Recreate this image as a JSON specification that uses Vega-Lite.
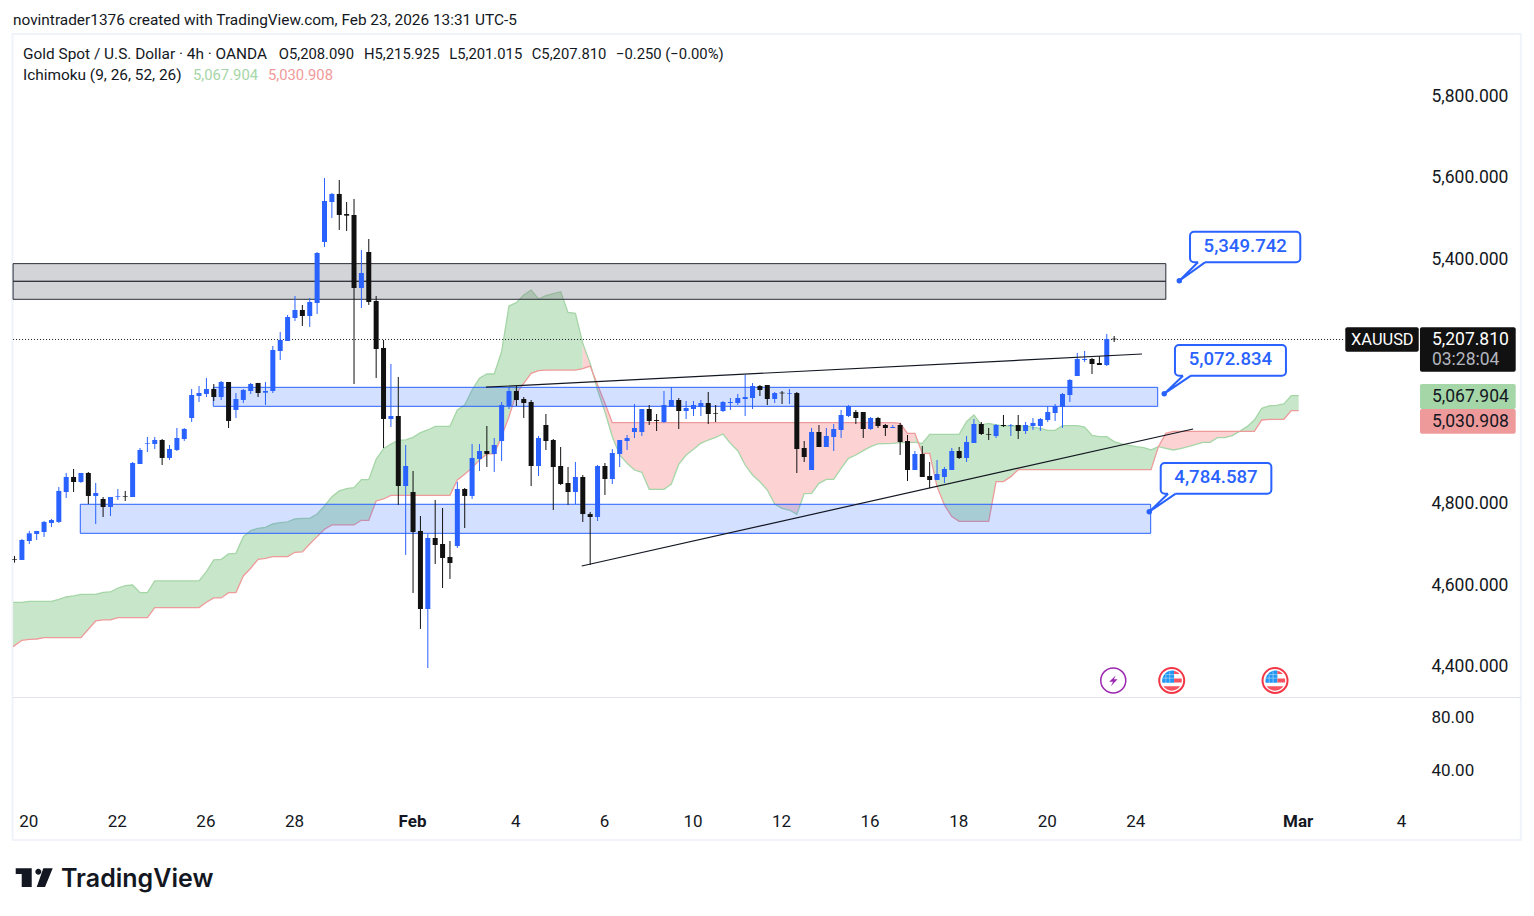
{
"$schema":"https://vega.github.io/schema/vega-lite/v6.json",
"width":1534,"height":916,"padding":0,"autosize":{"type":"none"},"background":"#ffffff",
"config":{"view":{"stroke":null},"text":{"font":"Roboto"}},
"datasets":{
"candles":[
{"i":-2,"o":4664.8,"h":4672.2,"l":4655.8,"c":4663.2},{"i":-1,"o":4662.4,"h":4713.9,"l":4662.4,"c":4711.4},{"i":0,"o":4708.9,"h":4733.5,"l":4701.6,"c":4727.7},{"i":1,"o":4726.1,"h":4733.5,"l":4711.4,"c":4733.5},{"i":2,"o":4731,"h":4758,"l":4718.8,"c":4755.6},{"i":3,"o":4753.1,"h":4762.9,"l":4743.3,"c":4760.4},{"i":4,"o":4755.6,"h":4841.3,"l":4753.1,"c":4831.6},{"i":5,"o":4829.1,"h":4875.7,"l":4814.4,"c":4865.9},{"i":6,"o":4865.9,"h":4885.5,"l":4829.1,"c":4853.6},{"i":7,"o":4853.6,"h":4875.7,"l":4851.2,"c":4875.7},
{"i":8,"o":4875.7,"h":4878.1,"l":4799.7,"c":4819.3},{"i":9,"o":4819.3,"h":4851.2,"l":4750.6,"c":4826.6},{"i":10,"o":4811.9,"h":4816.8,"l":4767.8,"c":4792.3},{"i":11,"o":4792.3,"h":4816.8,"l":4770.2,"c":4816.8},{"i":12,"o":4816.8,"h":4836.4,"l":4809.5,"c":4818.5},{"i":13,"o":4819.3,"h":4831.6,"l":4807,"c":4817.7},{"i":14,"o":4816.8,"h":4902.6,"l":4816.8,"c":4900.2},{"i":15,"o":4897.7,"h":4937,"l":4897.7,"c":4932.1},{"i":16,"o":4947.6,"h":4963.9,"l":4927.2,"c":4949.2},{"i":17,"o":4946.8,"h":4963.9,"l":4934.5,"c":4956.6},
{"i":18,"o":4956.6,"h":4959,"l":4895.3,"c":4912.5},{"i":19,"o":4912.5,"h":4944.3,"l":4907.6,"c":4934.5},{"i":20,"o":4932.1,"h":4986,"l":4929.6,"c":4961.5},{"i":21,"o":4959,"h":4986,"l":4954.2,"c":4983.6},{"i":22,"o":5010.5,"h":5081.6,"l":5000.7,"c":5066.9},{"i":23,"o":5064.5,"h":5089,"l":5049.8,"c":5071.8},{"i":24,"o":5069.4,"h":5108.6,"l":5062,"c":5081.6},{"i":25,"o":5081.6,"h":5093.9,"l":5052.2,"c":5062},{"i":26,"o":5062,"h":5101.3,"l":5054.7,"c":5098.8},{"i":27,"o":5098.8,"h":5098.8,"l":4986,"c":5003.2},
{"i":28,"o":5030.2,"h":5071.8,"l":5010.5,"c":5057.1},{"i":29,"o":5054.7,"h":5081.6,"l":5047.3,"c":5079.2},{"i":30,"o":5076.7,"h":5096.4,"l":5069.4,"c":5093.9},{"i":31,"o":5096.4,"h":5096.4,"l":5062,"c":5071.8},{"i":32,"o":5072.6,"h":5098.8,"l":5042.4,"c":5076.7},{"i":33,"o":5076.7,"h":5187.1,"l":5071.8,"c":5177.3},{"i":34,"o":5174.8,"h":5221.4,"l":5152.8,"c":5201.8},{"i":35,"o":5199.3,"h":5263.1,"l":5199.3,"c":5258.2},{"i":36,"o":5255.7,"h":5309.7,"l":5248.4,"c":5275.3},{"i":37,"o":5275.3,"h":5287.6,"l":5236.1,"c":5260.6},
{"i":38,"o":5260.6,"h":5304.8,"l":5233.7,"c":5295},{"i":39,"o":5292.5,"h":5417.5,"l":5265.5,"c":5415.1},{"i":40,"o":5442.1,"h":5599,"l":5429.8,"c":5542.6},{"i":41,"o":5540.1,"h":5562.2,"l":5500.9,"c":5559.8},{"i":42,"o":5559.8,"h":5594.1,"l":5471.5,"c":5508.3},{"i":43,"o":5510.7,"h":5540.1,"l":5469,"c":5506.6},{"i":44,"o":5508.3,"h":5547.5,"l":5093.9,"c":5329.3},{"i":45,"o":5329.3,"h":5422.4,"l":5280.2,"c":5366},{"i":46,"o":5417.5,"h":5449.4,"l":5287.6,"c":5295},{"i":47,"o":5297.4,"h":5309.7,"l":5108.6,"c":5179.7},
{"i":48,"o":5182.2,"h":5201.8,"l":4937,"c":5008.1},{"i":49,"o":5008.1,"h":5143,"l":4988.5,"c":5015.4},{"i":50,"o":5015.4,"h":5111.1,"l":4797.2,"c":4843.8},{"i":51,"o":4843.8,"h":4944.3,"l":4674.6,"c":4892.8},{"i":52,"o":4829.1,"h":4880.6,"l":4581.4,"c":4731},{"i":53,"o":4733.5,"h":4770.2,"l":4493.2,"c":4542.2},{"i":54,"o":4542.2,"h":4726.1,"l":4397.6,"c":4716.3},{"i":55,"o":4716.3,"h":4809.5,"l":4652.5,"c":4699.1},{"i":56,"o":4701.6,"h":4789.8,"l":4593.7,"c":4667.3},{"i":57,"o":4669.7,"h":4708.9,"l":4615.8,"c":4655},
{"i":58,"o":4696.7,"h":4853.6,"l":4691.8,"c":4836.4},{"i":59,"o":4836.4,"h":4838.9,"l":4740.8,"c":4819.3},{"i":60,"o":4819.3,"h":4946.8,"l":4811.9,"c":4912.5},{"i":61,"o":4910,"h":4946.8,"l":4880.6,"c":4929.6},{"i":62,"o":4929.6,"h":4990.9,"l":4890.4,"c":4922.3},{"i":63,"o":4922.3,"h":4961.5,"l":4878.1,"c":4944.3},{"i":64,"o":4954.1,"h":5049.7,"l":4905,"c":5042.3},{"i":65,"o":5039.9,"h":5086.4,"l":5032.5,"c":5076.6},{"i":66,"o":5076.6,"h":5088.9,"l":5039.9,"c":5054.6},{"i":67,"o":5057,"h":5061.9,"l":5010.4,"c":5047.2},
{"i":68,"o":5049.7,"h":5054.6,"l":4843.7,"c":4892.8},{"i":69,"o":4892.8,"h":4966.3,"l":4868.2,"c":4961.4},{"i":70,"o":4993.3,"h":5020.3,"l":4932,"c":4954.1},{"i":71,"o":4956.5,"h":4959,"l":4784.9,"c":4890.3},{"i":72,"o":4892.8,"h":4939.3,"l":4846.2,"c":4848.6},{"i":73,"o":4851.1,"h":4890.3,"l":4797.1,"c":4829},{"i":74,"o":4829,"h":4902.6,"l":4799.6,"c":4865.8},{"i":75,"o":4865.8,"h":4870.7,"l":4755.5,"c":4775},{"i":76,"o":4775,"h":4780,"l":4650,"c":4767.7},{"i":77,"o":4767.7,"h":4895.2,"l":4757.9,"c":4892.8},
{"i":78,"o":4892.8,"h":4900.1,"l":4821.7,"c":4860.9},{"i":79,"o":4860.9,"h":4934.4,"l":4848.6,"c":4924.6},{"i":80,"o":4922.2,"h":4956.5,"l":4890.3,"c":4956.5},{"i":81,"o":4954.1,"h":4968.8,"l":4932,"c":4961.4},{"i":82,"o":4976.1,"h":5044.8,"l":4961.4,"c":4985.9},{"i":83,"o":4976.1,"h":5032.5,"l":4966.3,"c":5032.5},{"i":84,"o":5032.5,"h":5042.3,"l":4993.3,"c":5003.1},{"i":85,"o":5005.5,"h":5020.3,"l":4978.6,"c":5003.1},{"i":86,"o":5000.6,"h":5076.6,"l":4998.2,"c":5042.3},{"i":87,"o":5037.4,"h":5086.4,"l":5037.4,"c":5054.6},
{"i":88,"o":5054.6,"h":5059.5,"l":4983.5,"c":5027.6},{"i":89,"o":5027.6,"h":5052.1,"l":5008,"c":5035},{"i":90,"o":5032.5,"h":5052.1,"l":5015.3,"c":5042.3},{"i":91,"o":5037.4,"h":5054.6,"l":5015.3,"c":5047.2},{"i":92,"o":5047.2,"h":5074.2,"l":4995.7,"c":5020.3},{"i":93,"o":5022.7,"h":5042.3,"l":5000.6,"c":5021.1},{"i":94,"o":5027.6,"h":5052.1,"l":5025.1,"c":5049.7},{"i":95,"o":5047.2,"h":5059.5,"l":5030.1,"c":5049.7},{"i":96,"o":5047.2,"h":5069.3,"l":5042.3,"c":5059.5},{"i":97,"o":5057,"h":5115.9,"l":5015.3,"c":5061.9},
{"i":98,"o":5059.5,"h":5096.2,"l":5032.5,"c":5088.9},{"i":99,"o":5088.9,"h":5091.4,"l":5064.4,"c":5079.1},{"i":100,"o":5091.4,"h":5091.4,"l":5042.3,"c":5057},{"i":101,"o":5057,"h":5074.2,"l":5047.2,"c":5071.7},{"i":102,"o":5072.6,"h":5076.6,"l":5044.8,"c":5070.9},{"i":103,"o":5070.1,"h":5081.5,"l":5044.8,"c":5071.7},{"i":104,"o":5071.7,"h":5074.2,"l":4875.6,"c":4934.4},{"i":105,"o":4936.9,"h":4954.1,"l":4902.6,"c":4914.8},{"i":106,"o":4883,"h":4986,"l":4883,"c":4976.2},{"i":107,"o":4976.2,"h":4993.3,"l":4939.4,"c":4939.4},
{"i":108,"o":4939.4,"h":4986,"l":4939.4,"c":4966.4},{"i":109,"o":4963.9,"h":4995.8,"l":4929.6,"c":4983.5},{"i":110,"o":4981.1,"h":5030.1,"l":4961.5,"c":5017.9},{"i":111,"o":5015.4,"h":5042.4,"l":5013,"c":5039.9},{"i":112,"o":5025.2,"h":5030.1,"l":4995.8,"c":5010.5},{"i":113,"o":5025.2,"h":5025.2,"l":4961.5,"c":4983.5},{"i":114,"o":4983.5,"h":5013,"l":4981.1,"c":5010.5},{"i":115,"o":5010.5,"h":5013,"l":4986,"c":4990.9},{"i":116,"o":4993.3,"h":4995.8,"l":4966.4,"c":4986},{"i":117,"o":4986,"h":4993.3,"l":4986,"c":4988.4},
{"i":118,"o":4993.3,"h":4998.3,"l":4919.8,"c":4951.7},{"i":119,"o":4954.1,"h":4968.8,"l":4856,"c":4883},{"i":120,"o":4883,"h":4929.6,"l":4883,"c":4922.2},{"i":121,"o":4922.2,"h":4941.9,"l":4865.8,"c":4865.8},{"i":122,"o":4868.3,"h":4902.6,"l":4838.9,"c":4858.5},{"i":123,"o":4858.5,"h":4907.5,"l":4858.5,"c":4873.2},{"i":124,"o":4865.8,"h":4890.4,"l":4851.1,"c":4885.5},{"i":125,"o":4883,"h":4936.9,"l":4883,"c":4929.6},{"i":126,"o":4929.6,"h":4939.4,"l":4910,"c":4912.4},{"i":127,"o":4912.4,"h":4966.4,"l":4902.6,"c":4951.7},
{"i":128,"o":4949.2,"h":5008,"l":4949.2,"c":4995.8},{"i":129,"o":4995.8,"h":5000.7,"l":4968.8,"c":4971.3},{"i":130,"o":4971.3,"h":4986,"l":4956.6,"c":4969.6},{"i":131,"o":4966.4,"h":4995.8,"l":4961.5,"c":4993.3},{"i":132,"o":4993.3,"h":5017.9,"l":4988.4,"c":4990.9},{"i":133,"o":4991.7,"h":4995.8,"l":4966.4,"c":4993.3},{"i":134,"o":4993.3,"h":5017.9,"l":4959,"c":4978.6},{"i":135,"o":4978.6,"h":5000.7,"l":4971.3,"c":4993.3},{"i":136,"o":4990.9,"h":5010.5,"l":4981.1,"c":4998.3},{"i":137,"o":4990.9,"h":5010.5,"l":4978.6,"c":5008},
{"i":138,"o":5005.6,"h":5039.9,"l":5000.7,"c":5025.2},{"i":139,"o":5022.8,"h":5044.8,"l":5003.2,"c":5039.9},{"i":140,"o":5037.5,"h":5071.8,"l":4986,"c":5069.4},{"i":141,"o":5066.9,"h":5106.1,"l":5049.7,"c":5103.7},{"i":142,"o":5113.5,"h":5169.9,"l":5113.5,"c":5155.2},{"i":143,"o":5152.7,"h":5174.8,"l":5147.8,"c":5155.2},{"i":144,"o":5155.2,"h":5157.6,"l":5118.4,"c":5142.9},{"i":145,"o":5145.4,"h":5162.5,"l":5140.5,"c":5140.5},{"i":146,"o":5140.5,"h":5216.5,"l":5138,"c":5204.2},{"i":147,"o":5205,"h":5211.6,"l":5196.9,"c":5203.4}
],
"cloud":[
{"i":-2.2,"a":4558.6,"b":4449.9,"s":"G1"},{"i":-1,"a":4558.6,"b":4465.4,"s":"G1"},{"i":0,"a":4561,"b":4467.8,"s":"G1"},{"i":1,"a":4561,"b":4468.6,"s":"G1"},{"i":2,"a":4561,"b":4472,"s":"G1"},{"i":3,"a":4561,"b":4472,"s":"G1"},{"i":4,"a":4565.9,"b":4472,"s":"G1"},{"i":5,"a":4571.6,"b":4472,"s":"G1"},{"i":6,"a":4574.1,"b":4472,"s":"G1"},{"i":7,"a":4578.2,"b":4472,"s":"G1"},{"i":8,"a":4578.2,"b":4492.4,"s":"G1"},{"i":9,"a":4578.2,"b":4512.8,"s":"G1"},{"i":10,"a":4583.1,"b":4515.3,"s":"G1"},{"i":11,"a":4583.9,"b":4515.3,"s":"G1"},{"i":12,"a":4593.7,"b":4521,"s":"G1"},{"i":13,"a":4599.4,"b":4521,"s":"G1"},{"i":14,"a":4601,"b":4521,"s":"G1"},{"i":15,"a":4582.3,"b":4521,"s":"G1"},{"i":16,"a":4582.3,"b":4521,"s":"G1"},{"i":17,"a":4610.9,"b":4545.5,"s":"G1"},{"i":23,"a":4610.9,"b":4545.5,"s":"G1"},
{"i":24,"a":4633.8,"b":4558.6,"s":"G1"},{"i":25,"a":4662.4,"b":4569.2,"s":"G1"},{"i":26,"a":4664,"b":4569.2,"s":"G1"},{"i":27,"a":4677.1,"b":4582.3,"s":"G1"},{"i":28,"a":4678.7,"b":4582.3,"s":"G1"},{"i":29,"a":4719.6,"b":4623.1,"s":"G1"},{"i":30,"a":4734.3,"b":4642,"s":"G1"},{"i":31,"a":4740,"b":4664,"s":"G1"},{"i":32,"a":4742.5,"b":4666.4,"s":"G1"},{"i":33,"a":4750.6,"b":4670.5,"s":"G1"},{"i":34,"a":4753.9,"b":4670.5,"s":"G1"},{"i":35,"a":4755.6,"b":4670.5,"s":"G1"},{"i":36,"a":4762.9,"b":4681.2,"s":"G1"},{"i":37,"a":4764.5,"b":4682,"s":"G1"},{"i":38,"a":4764.5,"b":4701.6,"s":"G1"},{"i":39,"a":4775.2,"b":4719.6,"s":"G1"},{"i":40,"a":4794.8,"b":4737.6,"s":"G1"},{"i":41,"a":4817.6,"b":4748.2,"s":"G1"},{"i":42,"a":4831.6,"b":4748.2,"s":"G1"},{"i":43,"a":4837.3,"b":4748.2,"s":"G1"},{"i":44,"a":4839.7,"b":4748.2,"s":"G1"},{"i":45,"a":4859.3,"b":4759.6,"s":"G1"},{"i":46,"a":4859.3,"b":4759.6,"s":"G1"},{"i":47,"a":4909.2,"b":4807,"s":"G1"},{"i":48,"a":4935.3,"b":4811.9,"s":"G1"},{"i":49,"a":4946.8,"b":4820.9,"s":"G1"},{"i":50,"a":4955.8,"b":4820.9,"s":"G1"},{"i":51,"a":4956.6,"b":4820.9,"s":"G1"},{"i":52,"a":4963.1,"b":4820.9,"s":"G1"},{"i":53,"a":4974.6,"b":4820.9,"s":"G1"},{"i":54,"a":4981.1,"b":4820.9,"s":"G1"},{"i":55,"a":4990.1,"b":4820.9,"s":"G1"},{"i":57,"a":4990.1,"b":4820.9,"s":"G1"},{"i":58,"a":5030.2,"b":4858.5,"s":"G1"},{"i":59,"a":5042.4,"b":4872.4,"s":"G1"},{"i":60,"a":5079.2,"b":4888.8,"s":"G1"},{"i":61,"a":5107.8,"b":4907.6,"s":"G1"},{"i":62,"a":5118.4,"b":4922.3,"s":"G1"},{"i":63,"a":5118.4,"b":4922.3,"s":"G1"},{"i":64,"a":5173.1,"b":4965.5,"s":"G1"},{"i":65,"a":5285,"b":5013.7,"s":"G1"},{"i":66,"a":5293.2,"b":5070.9,"s":"G1"},{"i":67,"a":5312,"b":5095.4,"s":"G1"},{"i":68,"a":5324.3,"b":5120,"s":"G1"},{"i":69,"a":5302.2,"b":5126.5,"s":"G1"},{"i":70,"a":5310.4,"b":5128.1,"s":"G1"},{"i":71,"a":5315.3,"b":5128.1,"s":"G1"},{"i":72,"a":5320.2,"b":5128.1,"s":"G1"},{"i":73,"a":5269.5,"b":5128.1,"s":"G1"},{"i":74,"a":5267,"b":5128.1,"s":"G1"},{"i":75,"a":5193.5,"b":5131.4,"s":"G1"},
{"i":75,"a":5193.5,"b":5131.4,"s":"R1"},{"i":76,"a":5144.5,"b":5137.9,"s":"R1"},{"i":77,"a":5079.1,"b":5091.4,"s":"R1"},{"i":78,"a":5025.9,"b":5046.4,"s":"R1"},{"i":79,"a":4964.7,"b":4999,"s":"R1"},{"i":80,"a":4919.7,"b":4999,"s":"R1"},{"i":81,"a":4899.3,"b":4999,"s":"R1"},{"i":82,"a":4882.9,"b":4999,"s":"R1"},{"i":83,"a":4877.2,"b":4999,"s":"R1"},{"i":84,"a":4835.5,"b":4999,"s":"R1"},{"i":86,"a":4835.5,"b":4999,"s":"R1"},{"i":87,"a":4848.6,"b":4999,"s":"R1"},{"i":88,"a":4896.8,"b":4999,"s":"R1"},{"i":89,"a":4919.7,"b":4999,"s":"R1"},{"i":90,"a":4933.6,"b":4999,"s":"R1"},{"i":91,"a":4948.3,"b":4999,"s":"R1"},{"i":92,"a":4956.5,"b":4999,"s":"R1"},{"i":93,"a":4963,"b":4999,"s":"R1"},{"i":94,"a":4971.2,"b":4999,"s":"R1"},{"i":95,"a":4948.3,"b":4999,"s":"R1"},{"i":96,"a":4930.3,"b":4999,"s":"R1"},{"i":97,"a":4895.2,"b":4999,"s":"R1"},{"i":98,"a":4870.7,"b":4999,"s":"R1"},{"i":99,"a":4854.3,"b":4999,"s":"R1"},{"i":100,"a":4833.9,"b":4999,"s":"R1"},{"i":101,"a":4799.6,"b":4999,"s":"R1"},{"i":102,"a":4789,"b":4999,"s":"R1"},{"i":103,"a":4784.9,"b":4999,"s":"R1"},{"i":104,"a":4774.2,"b":4999,"s":"R1"},{"i":105,"a":4825,"b":4999,"s":"R1"},{"i":106,"a":4825.8,"b":4999,"s":"R1"},{"i":107,"a":4850.3,"b":4999,"s":"R1"},{"i":108,"a":4860.1,"b":4999,"s":"R1"},{"i":109,"a":4860.1,"b":4999,"s":"R1"},{"i":110,"a":4887.1,"b":4999,"s":"R1"},{"i":111,"a":4911.6,"b":4999,"s":"R1"},{"i":112,"a":4919.8,"b":4999,"s":"R1"},{"i":113,"a":4930.4,"b":4999,"s":"R1"},{"i":114,"a":4940.2,"b":4999,"s":"R1"},{"i":115,"a":4946.8,"b":4999,"s":"R1"},{"i":116,"a":4947.6,"b":4999,"s":"R1"},{"i":117,"a":4948.4,"b":4999,"s":"R1"},{"i":118,"a":4950,"b":4997.4,"s":"R1"},{"i":119,"a":4950.9,"b":4972.9,"s":"R1"},{"i":120,"a":4950.9,"b":4972.9,"s":"R1"},
{"i":120,"a":4950.9,"b":4972.9,"s":"G2"},{"i":121,"a":4948.4,"b":4923.9,"s":"G2"},{"i":122,"a":4970.5,"b":4923.9,"s":"G2"},{"i":123,"a":4970.5,"b":4842.1,"s":"G2"},{"i":124,"a":4970.5,"b":4797.2,"s":"G2"},{"i":125,"a":4970.5,"b":4768.6,"s":"G2"},{"i":126,"a":4970.5,"b":4757.1,"s":"G2"},{"i":127,"a":5001.5,"b":4757.1,"s":"G2"},{"i":128,"a":5017.9,"b":4757.1,"s":"G2"},{"i":129,"a":4993.3,"b":4757.1,"s":"G2"},{"i":130,"a":4997.4,"b":4757.1,"s":"G2"},{"i":131,"a":4993.3,"b":4854.4,"s":"G2"},{"i":132,"a":4990.9,"b":4854.4,"s":"G2"},{"i":133,"a":4990.9,"b":4866.7,"s":"G2"},{"i":134,"a":4990.9,"b":4883.8,"s":"G2"},{"i":135,"a":4990.9,"b":4883.8,"s":"G2"},{"i":136,"a":4987.6,"b":4883.8,"s":"G2"},{"i":137,"a":4985.2,"b":4883.8,"s":"G2"},{"i":138,"a":4980.3,"b":4883.8,"s":"G2"},{"i":139,"a":4980.3,"b":4883.8,"s":"G2"},{"i":140,"a":4991.7,"b":4883.8,"s":"G2"},{"i":142,"a":4991.7,"b":4883.8,"s":"G2"},{"i":143,"a":4988.4,"b":4883.8,"s":"G2"},{"i":144,"a":4968,"b":4883.8,"s":"G2"},{"i":145,"a":4964.7,"b":4883.8,"s":"G2"},{"i":146,"a":4964.7,"b":4883.8,"s":"G2"},{"i":147,"a":4952.5,"b":4883.8,"s":"G2"},{"i":148,"a":4946.8,"b":4883.8,"s":"G2"},{"i":149,"a":4943.5,"b":4883.8,"s":"G2"},{"i":150,"a":4940.2,"b":4883.8,"s":"G2"},{"i":151,"a":4937.8,"b":4883.8,"s":"G2"},{"i":152,"a":4932.1,"b":4883.8,"s":"G2"},{"i":153,"a":4940.2,"b":4940.2,"s":"G2"},
{"i":153,"a":4940.2,"b":4940.2,"s":"R2"},{"i":154,"a":4936.2,"b":4972.9,"s":"R2"},{"i":155,"a":4932.1,"b":4977.8,"s":"R2"},{"i":156,"a":4935.3,"b":4977.8,"s":"R2"},{"i":157,"a":4940.2,"b":4977.8,"s":"R2"},{"i":158,"a":4945.1,"b":4977.8,"s":"R2"},{"i":159,"a":4950.9,"b":4977.8,"s":"R2"},{"i":160,"a":4950.9,"b":4977.8,"s":"R2"},{"i":161,"a":4962.3,"b":4977.8,"s":"R2"},{"i":162,"a":4962.3,"b":4977.8,"s":"R2"},{"i":163,"a":4967.2,"b":4977.8,"s":"R2"},{"i":164,"a":4977.8,"b":4977.8,"s":"R2"},
{"i":164,"a":4977.8,"b":4977.8,"s":"G3"},{"i":165,"a":4989.3,"b":4977.8,"s":"G3"},{"i":166,"a":5005.6,"b":4977.8,"s":"G3"},{"i":167,"a":5034.2,"b":5005.6,"s":"G3"},{"i":168,"a":5039.9,"b":5007.3,"s":"G3"},{"i":169,"a":5041.6,"b":5007.3,"s":"G3"},{"i":170,"a":5044.9,"b":5007.3,"s":"G3"},{"i":171,"a":5065.3,"b":5028.5,"s":"G3"},{"i":172,"a":5065.3,"b":5028.5,"s":"G3"}
],
"greyZone":[{"i":-2.2,"i2":154,"p":5389,"p2":5345.6},{"i":-2.2,"i2":154,"p":5345.6,"p2":5301.5}],
"blueZone":[{"i":24.93,"i2":152.9,"p":5085.7,"p2":5039.1},{"i":6.91,"i2":151.95,"p":4798.9,"p2":4727.7}],
"trend":[{"id":"upper","i":61.88,"p":5086},{"id":"upper","i":150.77,"p":5167.4},{"id":"lower","i":74.85,"p":4647.6},{"id":"lower","i":157.7,"p":4983.5}],
"lastPrice":[{"i":-2.2,"i2":178.3,"p":5203}],
"frame":[{"i":-2.28,"i2":202.1,"p":5952,"p2":3975.8}],
"paneLine":[{"i":-2.2,"i2":202.1,"v":94.7}],
"boxes":[{"i":157.28,"i2":172.22,"p":5467.3,"p2":5392.2},{"i":155.24,"i2":170.28,"p":5189.5,"p2":5114.2},{"i":153.31,"i2":168.3,"p":4900.2,"p2":4824.9}],
"gaps":[{"id":1,"i":158.36,"p":5392.2},{"id":1,"i":159.31,"p":5392.2},{"id":2,"i":156.33,"p":5114.2},{"id":2,"i":157.41,"p":5114.2},{"id":3,"i":154.3,"p":4824.9},{"id":3,"i":155.34,"p":4824.9}],
"tails":[{"id":1,"n":1,"i":158.36,"p":5392.2},{"id":1,"n":2,"i":155.83,"p":5347.1},{"id":1,"n":3,"i":159.31,"p":5392.2},{"id":2,"n":1,"i":156.33,"p":5114.2},{"id":2,"n":2,"i":153.79,"p":5070.1},{"id":2,"n":3,"i":157.41,"p":5114.2},{"id":3,"n":1,"i":154.3,"p":4824.9},{"id":3,"n":2,"i":151.76,"p":4780.7},{"id":3,"n":3,"i":155.34,"p":4824.9}],
"dots":[{"i":155.83,"p":5347.1},{"i":153.79,"p":5070.1},{"i":151.76,"p":4780.7}],
"callouts":[{"i":164.76,"p":5432.2,"t":"5,349.742"},{"i":162.76,"p":5154.5,"t":"5,072.834"},{"i":160.8,"p":4865.2,"t":"4,784.587"}],
"tags":[{"i":178.32,"i2":188.27,"p":5232.9,"p2":5173,"k":"dark"},{"i":188.44,"i2":201.41,"p":5232.9,"p2":5124,"k":"dark"},{"i":188.44,"i2":201.41,"p":5093.9,"p2":5032.6,"k":"spanA"},{"i":188.44,"i2":201.41,"p":5032.6,"p2":4972,"k":"spanB"}],
"symbolTag":[{"i":179.1,"p":5201.8,"t":"XAUUSD","k":"white"}],
"tagText":[{"i":190.06,"p":5201.8,"t":"5,207.810","k":"white"},{"i":190.06,"p":5152.7,"t":"03:28:04","k":"muted"},{"i":190.06,"p":5062,"t":"5,067.904","k":"ink"},{"i":190.06,"p":5000.7,"t":"5,030.908","k":"ink"}],
"legendWords":[{"i":-2.21,"p":5986.4,"t":"novintrader1376 created with TradingView.com, Feb 23, 2026 13:31 UTC-5","k":"ink"},{"i":-0.85,"p":5903,"t":"Gold Spot / U.S. Dollar · 4h · OANDA","k":"ink"},{"i":-0.85,"p":5851.5,"t":"Ichimoku (9, 26, 52, 26)","k":"ink"}],
"legendNums":[{"i":33.8,"p":5901,"t":"O5,208.090","k":"ink"},{"i":45.35,"p":5901,"t":"H5,215.925","k":"ink"},{"i":56.9,"p":5901,"t":"L5,201.015","k":"ink"},{"i":68.08,"p":5901,"t":"C5,207.810","k":"ink"},{"i":79.5,"p":5901,"t":"−0.250 (−0.00%)","k":"ink"},{"i":22.18,"p":5849.5,"t":"5,067.904","k":"green"},{"i":32.34,"p":5849.5,"t":"5,030.908","k":"red"}],
"logo":[{"i":0.91,"p":3882.6}],
"logoText":[{"i":4.3,"p":3880.2,"t":"TradingView"}],
"bolt":[{"i":146.88,"p":4366.9}],
"flags":[{"i":154.8,"p":4366.9},{"i":168.8,"p":4366.9}]
},
"resolve":{"scale":{"y":"independent"},"axis":{"y":"independent"}},
"layer":[
{
"encoding":{
"x":{"field":"i","type":"quantitative","scale":{"domain":[-3.97,203.89],"nice":false,"zero":false},
"axis":{"orient":"bottom","offset":-95,"title":null,"domain":false,"ticks":false,"grid":false,"labelPadding":0,"labelOffset":-1,"labelBaseline":"middle","labelAlign":"center","labelFont":"Roboto","labelFontSize":17,"labelColor":"#131722","labelOverlap":false,"labelBound":false,"labelFlush":false,
"values":[0,12,24,36,52,66,78,90,102,114,126,138,150,172,186],
"labelExpr":"{'0':'20','12':'22','24':'26','36':'28','52':'Feb','66':'4','78':'6','90':'10','102':'12','114':'16','126':'18','138':'20','150':'24','172':'Mar','186':'4'}[datum.value]",
"labelFontWeight":{"condition":{"test":"datum.value==52||datum.value==172","value":"bold"},"value":"normal"}}},
"y":{"field":"p","type":"quantitative","scale":{"domain":[3789.4,6035.4],"nice":false,"zero":false},
"axis":{"orient":"right","offset":-103,"title":null,"domain":false,"ticks":false,"grid":false,"labelPadding":0,"labelOffset":0,"labelBaseline":"middle","labelAlign":"left","labelFont":"Roboto","labelFontSize":17.5,"labelColor":"#131722","labelOverlap":false,"labelBound":false,"labelFlush":false,"format":",.3f","values":[4400,4600,4800,5400,5600,5800]}}
},
"layer":[
{"data":{"name":"frame"},"mark":{"type":"rect","filled":false,"stroke":"#f0f3fa","strokeWidth":2},"encoding":{"x2":{"field":"i2"},"y2":{"field":"p2"}}},
{"data":{"name":"cloud"},"mark":{"type":"area","orient":"vertical","opacity":1},"encoding":{"y":{"field":"a","type":"quantitative","axis":{"title":null,"orient":"right"}},"y2":{"field":"b"},"color":{"field":"s","type":"nominal","legend":null,"scale":{"domain":["G1","R1","G2","R2","G3","dark","spanA","spanB","white","muted","ink","green","red"],"range":["#c8e6c9","#fcd2d3","#c8e6c9","#fcd2d3","#c8e6c9","#111111","#a5d6a7","#ef9a9a","#ffffff","#b2b5be","#131722","#a5d6a7","#ef9a9a"]}}}},
{"data":{"name":"cloud"},"mark":{"type":"line","stroke":"#a5d6a7","strokeWidth":1.3},"encoding":{"y":{"field":"a","type":"quantitative","axis":{"title":null,"orient":"right"}}}},
{"data":{"name":"cloud"},"mark":{"type":"line","stroke":"#ef9a9a","strokeWidth":1.3},"encoding":{"y":{"field":"b","type":"quantitative","axis":{"title":null,"orient":"right"}}}},
{"data":{"name":"greyZone"},"mark":{"type":"rect","fill":"#787b86","fillOpacity":0.33,"stroke":"#2a2e39","strokeWidth":1},"encoding":{"x2":{"field":"i2"},"y2":{"field":"p2"}}},
{"data":{"name":"blueZone"},"mark":{"type":"rect","fill":"#2962ff","fillOpacity":0.2,"stroke":"#2962ff","strokeWidth":1},"encoding":{"x2":{"field":"i2"},"y2":{"field":"p2"}}},
{"data":{"name":"lastPrice"},"mark":{"type":"rule","stroke":"#131722","strokeWidth":1,"strokeDash":[1,2]},"encoding":{"x2":{"field":"i2"}}},
{"data":{"name":"candles"},"mark":{"type":"rule","strokeWidth":1},"encoding":{"y":{"field":"h","type":"quantitative","axis":{"title":null,"orient":"right"}},"y2":{"field":"l"},"color":{"condition":{"test":"datum.c>=datum.o","value":"#2962ff"},"value":"#111111"}}},
{"data":{"name":"candles"},"mark":{"type":"rule","strokeWidth":5},"encoding":{"y":{"field":"o","type":"quantitative","axis":{"title":null,"orient":"right"}},"y2":{"field":"c"},"color":{"condition":{"test":"datum.c>=datum.o","value":"#2962ff"},"value":"#111111"}}},
{"data":{"name":"trend"},"mark":{"type":"line","stroke":"#131722","strokeWidth":1.2},"encoding":{"detail":{"field":"id"}}},
{"data":{"name":"boxes"},"mark":{"type":"rect","fill":"#ffffff","stroke":"#2962ff","strokeWidth":2,"cornerRadius":4},"encoding":{"x2":{"field":"i2"},"y2":{"field":"p2"}}},
{"data":{"name":"gaps"},"mark":{"type":"line","stroke":"#ffffff","strokeWidth":3},"encoding":{"detail":{"field":"id"}}},
{"data":{"name":"tails"},"mark":{"type":"line","stroke":"#2962ff","strokeWidth":2},"encoding":{"detail":{"field":"id"},"order":{"field":"n"}}},
{"data":{"name":"dots"},"mark":{"type":"point","shape":"circle","filled":true,"size":30,"opacity":1,"color":"#2962ff"}},
{"data":{"name":"callouts"},"mark":{"type":"text","font":"Roboto","fontSize":18.6,"fontWeight":500,"color":"#2962ff","align":"center","baseline":"middle"},"encoding":{"text":{"field":"t"}}},
{"data":{"name":"tags"},"mark":{"type":"rect","cornerRadius":2,"opacity":1},"encoding":{"x2":{"field":"i2"},"y2":{"field":"p2"},"color":{"field":"k","type":"nominal","legend":null}}},
{"data":{"name":"symbolTag"},"mark":{"type":"text","font":"Roboto","fontSize":16.4,"align":"left","baseline":"middle"},"encoding":{"text":{"field":"t"},"color":{"field":"k","type":"nominal","legend":null}}},
{"data":{"name":"tagText"},"mark":{"type":"text","font":"Roboto","fontSize":17.5,"align":"left","baseline":"middle"},"encoding":{"text":{"field":"t"},"color":{"field":"k","type":"nominal","legend":null}}},
{"data":{"name":"legendWords"},"mark":{"type":"text","font":"Roboto","fontSize":15.4,"align":"left","baseline":"middle"},"encoding":{"text":{"field":"t"},"color":{"field":"k","type":"nominal","legend":null}}},
{"data":{"name":"legendNums"},"mark":{"type":"text","font":"Roboto","fontSize":14.8,"align":"left","baseline":"middle"},"encoding":{"text":{"field":"t"},"color":{"field":"k","type":"nominal","legend":null}}},
{"data":{"name":"logo"},"mark":{"type":"point","filled":true,"opacity":1,"color":"#131722","size":1936,"shape":"M-.923,-.441L-.195,-.441L-.195,.409L-.65,.409L-.65,-.182L-.923,-.182ZM.332,-.441L.759,-.441L.409,.409L.032,.409ZM-.03,-.286A.136,.136 0 1,0 .242,-.286A.136,.136 0 1,0 -.03,-.286Z"}},
{"data":{"name":"logoText"},"mark":{"type":"text","font":"Inter","fontSize":25,"fontWeight":600,"color":"#131722","align":"left","baseline":"middle"},"encoding":{"text":{"field":"t"}}},
{"data":{"name":"bolt"},"mark":{"type":"point","shape":"circle","filled":true,"fill":"#ffffff","stroke":"#9c27b0","strokeWidth":1.5,"size":625,"opacity":1}},
{"data":{"name":"bolt"},"mark":{"type":"point","filled":true,"color":"#9c27b0","opacity":1,"size":676,"shape":"M.18,-.38L-.31,.1L-.02,.1L-.18,.44L.33,-.1L.05,-.1Z"}},
{"data":{"name":"flags"},"mark":{"type":"point","shape":"circle","filled":true,"fill":"#ffffff","stroke":"#f23645","strokeWidth":2,"size":625,"opacity":1}},
{"data":{"name":"flags"},"mark":{"type":"point","filled":true,"color":"#2196f3","opacity":1,"size":676,"shape":"M-.72,.18L.18,.18L.18,-.75A.78,.78 0 0,0 -.72,.18Z"}},
{"data":{"name":"flags"},"mark":{"type":"point","filled":false,"stroke":"#ffffff","strokeWidth":0.6,"opacity":0.7,"size":676,"shape":"M-.45,-.4V.18M-.15,-.7V.18M-.72,-.18H.18M-.5,-.45H.18"}},
{"data":{"name":"flags"},"mark":{"type":"point","filled":true,"color":"#f7525f","opacity":1,"size":676,"shape":"M.18,-.75A.78,.78 0 0,1 .6,-.5L.18,-.5ZM.18,-.16L.77,-.16L.77,.16L.18,.16ZM-.65,.45L.65,.45A.8,.8 0 0,1 -.65,.45Z"}}
]
},
{
"data":{"name":"paneLine"},
"mark":{"type":"rule","stroke":"#e0e3eb","strokeWidth":1},
"encoding":{
"x":{"field":"i","type":"quantitative"},
"x2":{"field":"i2"},
"y":{"field":"v","type":"quantitative","scale":{"domain":[-70.2,621.1],"nice":false,"zero":false},
"axis":{"orient":"right","offset":-103,"title":null,"domain":false,"ticks":false,"grid":false,"labelPadding":0,"labelOffset":1,"labelBaseline":"middle","labelAlign":"left","labelFont":"Roboto","labelFontSize":17,"labelColor":"#131722","labelOverlap":false,"labelBound":false,"labelFlush":false,"format":".2f","values":[40,80]}}
}
}
]
}
